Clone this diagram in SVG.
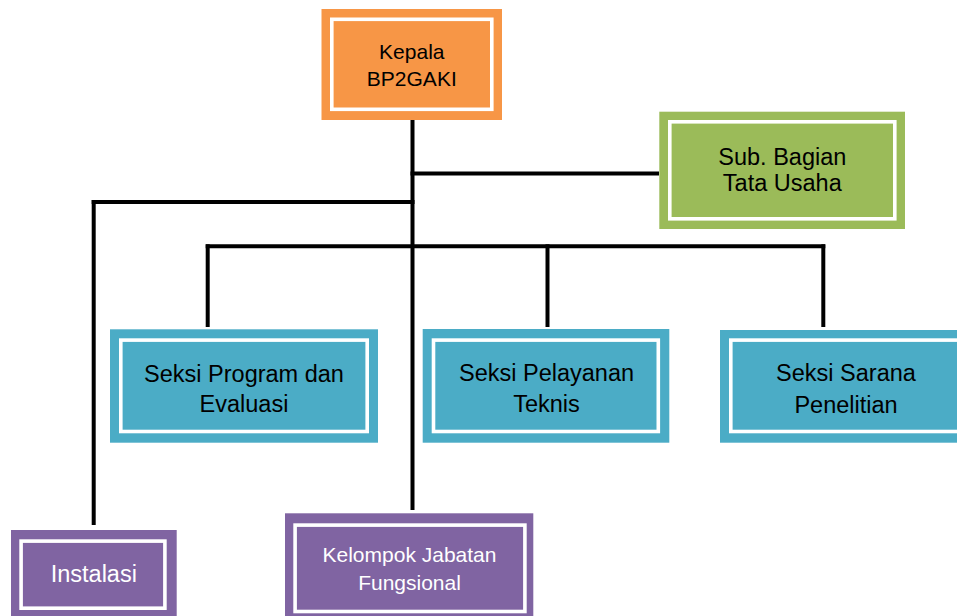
<svg xmlns="http://www.w3.org/2000/svg" width="957" height="616" viewBox="0 0 957 616">
<style>
.frame{fill:none;stroke:#ffffff;stroke-width:3.6}
.t{font-family:"Liberation Sans",Arial,sans-serif;text-anchor:middle;fill:#000}
.w{fill:#ffffff}
.orange{fill:#F79646}
.green{fill:#9BBB59}
.blue{fill:#4BACC6}
.purple{fill:#8064A2}
.conn line{stroke:#000;stroke-width:4;stroke-linecap:butt}
</style>
<rect width="957" height="616" fill="#ffffff"/>
<g id="connectors" class="conn">
<line x1="412.5" y1="120" x2="412.5" y2="510"/>
<line x1="410.5" y1="173.5" x2="659" y2="173.5"/>
<line x1="91.7" y1="202" x2="414.5" y2="202"/>
<line x1="93.7" y1="200" x2="93.7" y2="525"/>
<line x1="205.7" y1="246.3" x2="825.3" y2="246.3"/>
<line x1="207.7" y1="244.3" x2="207.7" y2="327"/>
<line x1="547.5" y1="244.3" x2="547.5" y2="327"/>
<line x1="823.3" y1="244.3" x2="823.3" y2="327"/>
</g>
<g id="kepala">
<rect class="orange" x="321.5" y="9" width="180.5" height="111"/>
<rect class="frame" x="331.8" y="19.3" width="160" height="90"/>
<text class="t" x="411.8" y="59.3" font-size="21">Kepala</text>
<text class="t" x="411.8" y="85.7" font-size="21">BP2GAKI</text>
</g>
<g id="subbagian">
<rect class="green" x="659.3" y="111.7" width="245.7" height="117.3"/>
<rect class="frame" x="669.8" y="121.8" width="225" height="97"/>
<text class="t" x="782.3" y="165" font-size="23.5">Sub. Bagian</text>
<text class="t" x="782.3" y="191" font-size="23.5">Tata Usaha</text>
</g>
<g id="seksi-program">
<rect class="blue" x="110" y="329.3" width="268" height="113.4"/>
<rect class="frame" x="120.8" y="340.1" width="246.4" height="91.4"/>
<text class="t" x="244" y="381.7" font-size="23.5">Seksi Program dan</text>
<text class="t" x="244" y="412.3" font-size="23.5">Evaluasi</text>
</g>
<g id="seksi-pelayanan">
<rect class="blue" x="422.7" y="329" width="246.6" height="113.7"/>
<rect class="frame" x="433.5" y="340.1" width="224.8" height="91.4"/>
<text class="t" x="546.5" y="380.5" font-size="23.5">Seksi Pelayanan</text>
<text class="t" x="546.5" y="411.7" font-size="23.5">Teknis</text>
</g>
<g id="seksi-sarana">
<rect class="blue" x="720" y="330" width="252" height="112.7"/>
<rect class="frame" x="730.8" y="340.1" width="230" height="91.4"/>
<text class="t" x="846" y="381" font-size="23.5">Seksi Sarana</text>
<text class="t" x="846" y="412.7" font-size="23.5">Penelitian</text>
</g>
<g id="instalasi">
<rect class="purple" x="11" y="530" width="165.7" height="90"/>
<rect class="frame" x="21.1" y="541.1" width="143.8" height="67.1"/>
<text class="t w" x="93.8" y="581.7" font-size="23.5">Instalasi</text>
</g>
<g id="kelompok">
<rect class="purple" x="285" y="513.3" width="248.3" height="106"/>
<rect class="frame" x="295.1" y="525.1" width="229.8" height="86.4"/>
<text class="t w" x="409.5" y="562.3" font-size="21">Kelompok Jabatan</text>
<text class="t w" x="409.5" y="590" font-size="21">Fungsional</text>
</g>
</svg>
